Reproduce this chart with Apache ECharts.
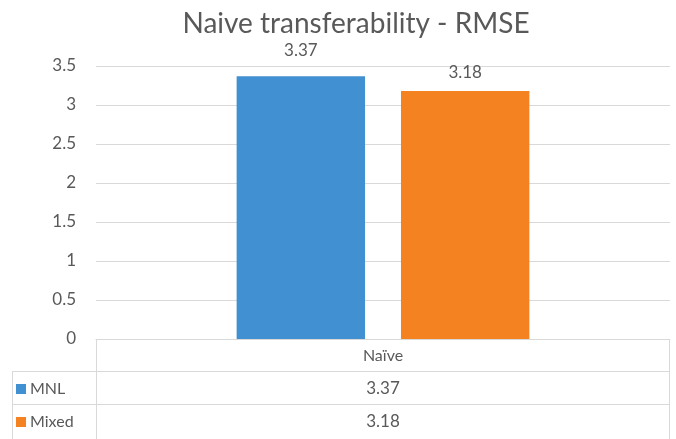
<!DOCTYPE html>
<html>
<head>
<meta charset="utf-8">
<script src="https://cdn.jsdelivr.net/npm/echarts@6/dist/echarts.min.js"></script>
<style>
  html, body { margin: 0; padding: 0; background: #fff; }
  #chart { width: 676px; height: 439px; }
</style>
</head>
<body>
<div id="chart"></div>
<script>
// data
const categories = ['Naïve'];
const seriesNames = ['MNL', 'Mixed'];
const mnlValues = [3.37];
const mixedValues = [3.18];
const colors = ['#4191d2', '#f58220'];

const FONT = 'Lato';
const TEXT = '#595959';
const LINE = '#d9d9d9';

// layout of plot + data table
const gridLeft = 96, gridRight = 670, gridTop = 66, gridBottom = 339;
const tableLeft = 12;
const rowH = 33;

const chart = echarts.init(document.getElementById('chart'));

const seriesValues = [mnlValues, mixedValues];
const labelDistance = [17, 10];

// data table below the axis
const graphics = [];
const hLine = (x1, x2, y) => graphics.push({
  type: 'line', shape: { x1, y1: y, x2, y2: y }, style: { stroke: LINE, lineWidth: 1 }
});
const vLine = (x, y1, y2) => graphics.push({
  type: 'line', shape: { x1: x, y1, x2: x, y2 }, style: { stroke: LINE, lineWidth: 1 }
});
const rowsTop = gridBottom + 32;
vLine(gridLeft + 0.5, gridBottom, 439);
vLine(gridRight - 0.5, gridBottom, 439);
vLine(tableLeft + 0.5, rowsTop, 439);
seriesNames.forEach((name, i) => {
  const y = rowsTop + i * rowH;
  hLine(tableLeft, gridRight, y + 0.5);
  graphics.push({
    type: 'rect', shape: { x: tableLeft + 4, y: y + 13, width: 10, height: 10 },
    style: { fill: colors[i] }
  });
  graphics.push({
    type: 'text', x: tableLeft + 18, y: y + 18,
    style: { text: name, fill: TEXT, font: '16px ' + FONT, verticalAlign: 'middle' }
  });
  seriesValues[i].forEach((v, j) => {
    const colW = (gridRight - gridLeft) / categories.length;
    graphics.push({
      type: 'text', x: gridLeft + colW * (j + 0.5), y: y + 18,
      style: { text: v.toFixed(2), fill: TEXT, font: '17px ' + FONT, align: 'center', verticalAlign: 'middle' }
    });
  });
});

chart.setOption({
  animation: false,
  title: {
    text: 'Naive transferability - RMSE',
    left: 351, top: 5, textAlign: 'center',
    textStyle: { fontFamily: FONT, fontSize: 28, fontWeight: 'normal', color: TEXT }
  },
  grid: { left: gridLeft, right: 676 - gridRight, top: gridTop, bottom: 439 - gridBottom },
  xAxis: {
    type: 'category',
    data: categories,
    axisLine: { lineStyle: { color: LINE } },
    axisTick: { show: false },
    axisLabel: { fontFamily: FONT, fontSize: 16, color: TEXT, margin: 9 }
  },
  yAxis: {
    type: 'value',
    min: 0, max: 3.5, interval: 0.5,
    axisLine: { show: false },
    axisTick: { show: false },
    axisLabel: { fontFamily: FONT, fontSize: 17, color: TEXT, margin: 20 },
    splitLine: { lineStyle: { color: LINE, width: 1 } }
  },
  series: seriesNames.map((name, i) => ({
    name,
    type: 'bar',
    data: seriesValues[i],
    barGap: '28%',
    barCategoryGap: '49%',
    itemStyle: { color: colors[i] },
    label: {
      show: true, position: 'top', distance: labelDistance[i],
      fontFamily: FONT, fontSize: 17, color: TEXT,
      formatter: p => p.value.toFixed(2)
    }
  })),
  graphic: graphics
});
</script>
</body>
</html>
